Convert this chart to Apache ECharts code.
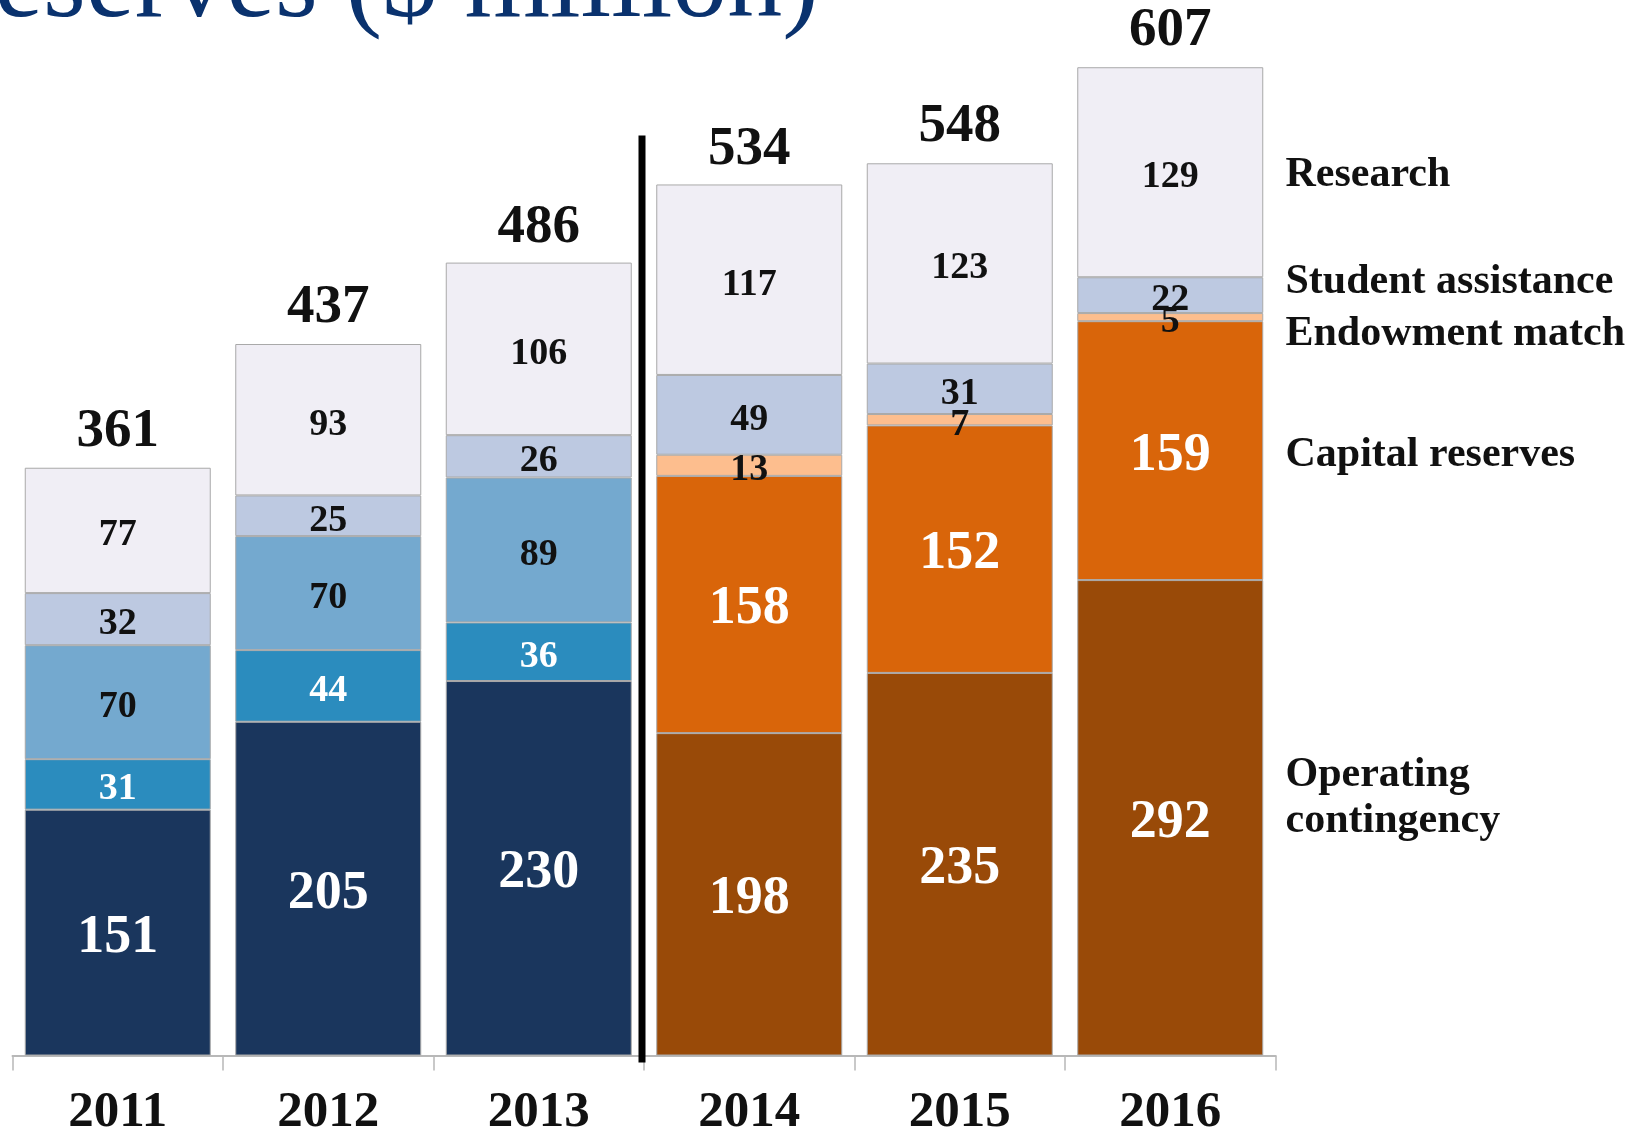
<!DOCTYPE html>
<html>
<head>
<meta charset="utf-8">
<script src="https://cdn.jsdelivr.net/npm/echarts@6/dist/echarts.min.js"></script>
<style>
html,body{margin:0;padding:0;background:#fff;overflow:hidden;}
#chart{width:1626px;height:1132px;}
</style>
</head>
<body>
<div id="chart"></div>
<script>
// ---- data ----
const years = ['2011', '2012', '2013', '2014', '2015', '2016'];
const operating = [151, 205, 230, 198, 235, 292];
const capital = [31, 44, 36, 158, 152, 159];
const endowment = [70, 70, 89, 13, 7, 5];
const student = [32, 25, 26, 49, 31, 22];
const research = [77, 93, 106, 117, 123, 129];
const totals = [361, 437, 486, 534, 548, 607];
const seriesNames = ['Operating contingency', 'Capital reserves', 'Endowment match', 'Student assistance', 'Research'];
const legendTexts = ['Operating\ncontingency', 'Capital reserves', 'Endowment match', 'Student assistance', 'Research'];
const titleText = 'Reserves ($ million)';

// ---- styles ----
const oldColors = ['#1a365d', '#2b8cbe', '#74a9cf', '#bdc9e1', '#f0eef5'];
const newColors = ['#994a08', '#d9650a', '#fdbe8e', '#bdc9e1', '#f0eef5'];
const FONT = 'Liberation Serif';
const bigLabel = { color: '#ffffff', fontSize: 54, offset: [0, 5] };
const smallWhite = { color: '#ffffff', fontSize: 38, offset: [0, 5] };
const smallBlack = { color: '#111111', fontSize: 38, offset: [0, 5] };
function labelFor(s, i) {
  if (s === 0) return bigLabel;
  if (s === 1) return i < 3 ? smallWhite : bigLabel;
  return smallBlack;
}
const values = [operating, capital, endowment, student, research];

const chart = echarts.init(document.getElementById('chart'), null, { renderer: 'canvas' });

const series = values.map((arr, s) => ({
  name: seriesNames[s],
  type: 'bar',
  stack: 'total',
  barWidth: 186,
  data: arr.map((v, i) => ({
    value: v,
    itemStyle: { color: i < 3 ? oldColors[s] : newColors[s] },
    label: Object.assign({}, labelFor(s, i))
  })),
  itemStyle: { borderColor: '#a9a9a9', borderWidth: 1 },
  label: {
    show: true,
    position: 'inside',
    fontFamily: FONT,
    fontWeight: 'bold'
  },
  emphasis: { disabled: true },
  animation: false
}));

series.push({
  name: 'Total',
  type: 'line',
  data: totals,
  symbol: 'circle',
  symbolSize: 1,
  showSymbol: true,
  itemStyle: { color: 'rgba(0,0,0,0)' },
  lineStyle: { opacity: 0 },
  label: {
    show: true,
    position: 'top',
    distance: 8,
    fontFamily: FONT,
    fontWeight: 'bold',
    fontSize: 55,
    color: '#111111'
  },
  emphasis: { disabled: true },
  z: 10,
  animation: false
});

chart.setOption({
  backgroundColor: '#ffffff',
  animation: false,
  grid: {
    left: 12.5, right: 350.5, top: 13.5, bottom: 76.5,
    containLabel: false,
    outerBoundsMode: 'none'
  },
  xAxis: {
    type: 'category',
    data: years,
    axisLine: { lineStyle: { color: '#b8b8b8', width: 2 } },
    axisTick: { show: true, length: 15, lineStyle: { color: '#b8b8b8', width: 1.5 } },
    axisLabel: { margin: 32, fontFamily: FONT, fontWeight: 'bold', fontSize: 51, color: '#111111' }
  },
  yAxis: {
    type: 'value',
    min: 0,
    max: 640,
    show: false,
    splitLine: { show: false }
  },
  series: series
});

// ---- overlay: title, separator, series names ----
const graphics = [];
graphics.push({
  type: 'text',
  x: 819,
  y: -13,
  style: {
    text: titleText,
    font: '110px "' + FONT + '"',
    fill: '#0a326e',
    textAlign: 'right',
    textVerticalAlign: 'middle'
  },
  silent: true
});

const p13 = chart.convertToPixel({ gridIndex: 0 }, ['2013', 565]);
const p14 = chart.convertToPixel({ gridIndex: 0 }, ['2014', 0]);
const sepX = (p13[0] + p14[0]) / 2 - 2;
graphics.push({
  type: 'line',
  shape: { x1: sepX, y1: p13[1], x2: sepX, y2: p14[1] + 7 },
  style: { stroke: '#000000', lineWidth: 7 },
  z: 20,
  silent: true
});

// name labels next to the last bar
const last = years.length - 1;
const nameOffsets = [-20, 5, 17, -13, 3];
let cum = 0;
const gridRight = 1626 - 350.5;
values.forEach((arr, s) => {
  const mid = cum + arr[last] / 2;
  cum += arr[last];
  const py = chart.convertToPixel({ gridIndex: 0 }, [years[last], mid])[1];
  graphics.push({
    type: 'text',
    x: gridRight + 10,
    y: py + nameOffsets[s],
    style: {
      text: legendTexts[s],
      font: 'bold 42px "' + FONT + '"',
      fill: '#111111',
      textAlign: 'left',
      textVerticalAlign: 'middle',
      lineHeight: 46
    },
    silent: true
  });
});

chart.setOption({ graphic: graphics });
</script>
</body>
</html>
